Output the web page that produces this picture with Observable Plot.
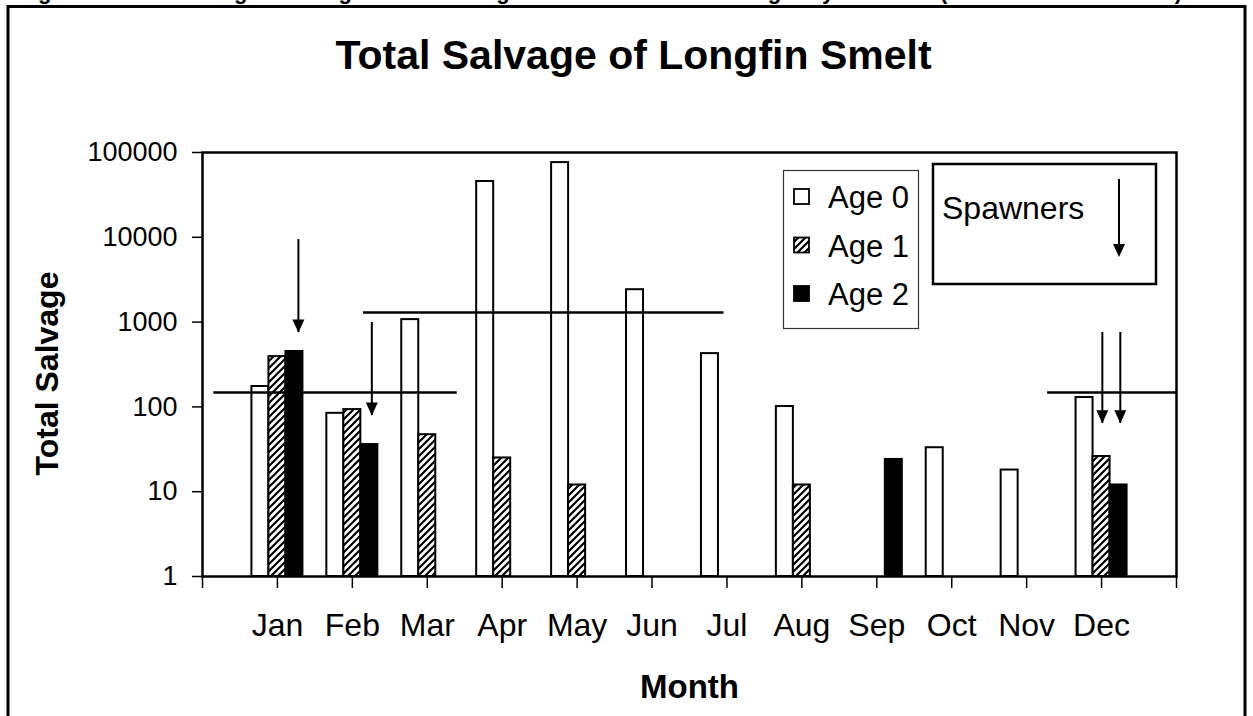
<!DOCTYPE html>
<html>
<head>
<meta charset="utf-8">
<script src="https://cdn.jsdelivr.net/npm/d3@7"></script>
<script src="https://cdn.jsdelivr.net/npm/@observablehq/plot@0.6"></script>
<style>
  html, body { margin: 0; padding: 0; background: #fff; }
  #chart svg { display: block; }
</style>
</head>
<body>
<div id="chart"></div>
<script>
// ---- data ----
const months = ["Jan","Feb","Mar","Apr","May","Jun","Jul","Aug","Sep","Oct","Nov","Dec"];
const ageNames = ["Age 0", "Age 1", "Age 2"];
const age0 = [174, 84, 1070, 45500, 76000, 2410, 425, 101, null, 33, 18, 129];
const age1 = [392, 93, 47, 25, 12, null, null, 12, null, null, null, 26];
const age2 = [450, 36, null, null, null, null, null, null, 24, null, null, 12];
const yTicks = [1, 10, 100, 1000, 10000, 100000];
// horizontal reference lines (value, x extent in month units)
const refValue = [148, 1300, 148];
const refFrom = [0.15, 2.15, 11.28];
const refTo = [3.40, 6.96, 13];
// spawner arrows (x in month units, top and tip values)
const spawnX = [1.28, 2.26, 12.01, 12.25];
const spawnTop = [9400, 990, 754, 754];
const spawnTip = [754, 79, 64, 64];

const titleText = "Total Salvage of Longfin Smelt";
const headerText = "Figure 14    Salvage during 1993 through 2005 of total salvage by month  (Source: DFG 2006)";

// ---- build tables ----
const series = [age0, age1, age2];
const bars = [];
series.forEach((vals, k) => vals.forEach((v, i) => {
  if (v != null) bars.push({month: i + 1, age: k, value: v});
}));
const refs = refValue.map((v, i) => ({value: v, from: refFrom[i], to: refTo[i]}));
const spawners = spawnX.map((x, i) => ({x, top: spawnTop[i], tip: spawnTip[i]}));

const slot = 0.227; // bar width in month units
const fills = ["white", "url(#hatch)", "black"];
const downTriangle = {
  draw(ctx) { ctx.moveTo(-6, -13); ctx.lineTo(6, -13); ctx.lineTo(0, 0); ctx.closePath(); }
};
const font = "'Liberation Sans', Arial, Helvetica, sans-serif";

const barMarks = [0, 1, 2].map(k => Plot.rect(bars.filter(d => d.age === k), {
  x1: d => d.month + (k - 1) * slot - slot / 2,
  x2: d => d.month + (k - 1) * slot + slot / 2,
  y1: () => 1,
  y2: "value",
  fill: fills[k],
  stroke: "black",
  strokeWidth: 2
}));

const svg = Plot.plot({
  width: 1253,
  height: 716,
  marginLeft: 202,
  marginRight: 77,
  marginTop: 152,
  marginBottom: 140,
  style: {fontFamily: font, fontSize: "27px", color: "black", background: "white", overflow: "visible"},
  x: {
    type: "linear", domain: [0, 13], label: null,
    ticks: d3.range(0, 14), tickSize: 12, tickPadding: 25,
    tickFormat: d => months[d - 1] ?? ""
  },
  y: {
    type: "log", domain: [1, 100000], label: null,
    ticks: yTicks, tickSize: 10, tickPadding: 15,
    tickFormat: d => String(Math.round(d))
  },
  marks: [
    ...barMarks,
    Plot.ruleY(refs, {y: "value", x1: "from", x2: "to", stroke: "black", strokeWidth: 2.5}),
    Plot.ruleX(spawners, {x: "x", y1: "top", y2: "tip", stroke: "black", strokeWidth: 2}),
    Plot.dot(spawners, {x: "x", y: "tip", symbol: downTriangle, r: 5, fill: "black", stroke: "none"}),
    Plot.frame({stroke: "black", strokeWidth: 2.5}),
    Plot.text([titleText], {text: d => d, frameAnchor: "top", lineAnchor: "middle", textAnchor: "middle",
      dx: -56, dy: -97, fontSize: 41, fontWeight: "bold"}),
    Plot.text(["Total Salvage"], {text: d => d, frameAnchor: "left", lineAnchor: "middle", textAnchor: "middle",
      rotate: -90, dx: -155, dy: 9, fontSize: 32, fontWeight: "bold"}),
    Plot.text(["Month"], {text: d => d, frameAnchor: "bottom", lineAnchor: "middle", textAnchor: "middle",
      dy: 111, fontSize: 33, fontWeight: "bold"})
  ]
});
document.getElementById("chart").append(svg);

// ---- post styling ----
const s = d3.select(svg);
s.selectAll('[aria-label^="x-axis"] text').style("font-size", "32px").style("font-family", font);
s.selectAll('[aria-label^="y-axis"] text').style("font-size", "27px").style("font-family", font);
s.selectAll('[aria-label^="x-axis"] path, [aria-label^="x-axis"] line, [aria-label^="y-axis"] path, [aria-label^="y-axis"] line')
  .style("stroke-width", "1.5");

// hatch pattern
const defs = s.insert("defs", ":first-child");
const pat = defs.append("pattern").attr("id", "hatch").attr("patternUnits", "userSpaceOnUse")
  .attr("width", 7).attr("height", 7);
pat.append("rect").attr("width", 7).attr("height", 7).attr("fill", "white");
pat.append("path").attr("d", "M-1,1 L1,-1 M0,7 L7,0 M6,8 L8,6").attr("stroke", "black").attr("stroke-width", 2.2);

// outer border + cut-off header
const deco = s.append("g").attr("text-anchor", "start");
deco.append("rect").attr("x", 8).attr("y", 6.5).attr("width", 1237).attr("height", 760)
  .attr("fill", "none").attr("stroke", "black").attr("stroke-width", 3);
deco.append("text").attr("x", 14).attr("y", -1).attr("font-size", 22).attr("font-weight", "bold")
  .attr("text-anchor", "start").attr("font-family", font)
  .attr("textLength", 1168).attr("lengthAdjust", "spacing").text(headerText);

// age legend
const lg = s.append("g").attr("font-family", font).attr("font-size", 31).attr("text-anchor", "start");
lg.append("rect").attr("x", 783.5).attr("y", 170.5).attr("width", 135).attr("height", 158)
  .attr("fill", "white").attr("stroke", "#333").attr("stroke-width", 1.2);
ageNames.forEach((name, k) => {
  const base = 208 + k * 48.5;
  lg.append("rect").attr("x", 794).attr("y", base - 19).attr("width", 15).attr("height", 15)
    .attr("fill", fills[k]).attr("stroke", "black").attr("stroke-width", 1.8);
  lg.append("text").attr("x", 828).attr("y", base).attr("text-anchor", "start").text(name);
});

// spawners legend
const sp = s.append("g").attr("font-family", font).attr("text-anchor", "start");
sp.append("rect").attr("x", 933).attr("y", 164).attr("width", 223).attr("height", 120)
  .attr("fill", "white").attr("stroke", "black").attr("stroke-width", 2.5);
sp.append("text").attr("x", 942).attr("y", 219).attr("font-size", 32).attr("text-anchor", "start").text("Spawners");
sp.append("line").attr("x1", 1119).attr("x2", 1119).attr("y1", 179).attr("y2", 250)
  .attr("stroke", "black").attr("stroke-width", 2);
sp.append("path").attr("d", "M1113,244 L1125,244 L1119,257 Z").attr("fill", "black");
</script>
</body>
</html>
